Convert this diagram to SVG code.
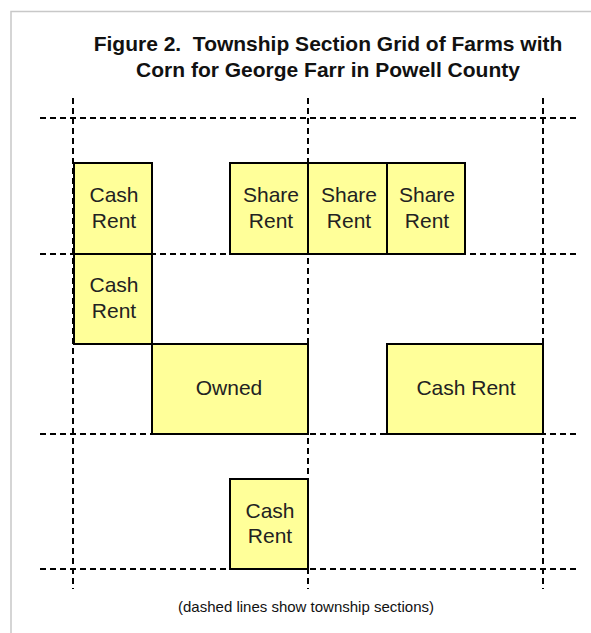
<svg xmlns="http://www.w3.org/2000/svg" width="591" height="633" viewBox="0 0 591 633">
<style>
.farm rect{fill:#ffff99;stroke:#000;stroke-width:2}
.farm text{font-family:"Liberation Sans",Arial,sans-serif;font-size:21px;fill:#222;text-anchor:middle}
.grid line{stroke:#000;stroke-width:2;stroke-dasharray:6 4}
.title{font-family:"Liberation Sans",Arial,sans-serif;font-size:21px;font-weight:bold;fill:#111;text-anchor:middle;white-space:pre}
.cap{font-family:"Liberation Sans",Arial,sans-serif;font-size:15px;fill:#111;text-anchor:middle}
</style>
<rect x="0" y="0" width="591" height="633" fill="#fff"/>
<rect x="11" y="11.5" width="600" height="640" fill="none" stroke="#c8c8c8" stroke-width="1.5"/>
<text class="title" x="328" y="51" xml:space="preserve">Figure 2.  Township Section Grid of Farms with</text>
<text class="title" x="328" y="77">Corn for George Farr in Powell County</text>
<g id="farm1" class="farm"><rect x="74" y="163" width="78" height="91"/><text x="114" y="202">Cash</text><text x="114" y="228">Rent</text></g>
<g id="farm2" class="farm"><rect x="230" y="163" width="78" height="91"/><text x="271" y="202">Share</text><text x="271" y="228">Rent</text></g>
<g id="farm3" class="farm"><rect x="308" y="163" width="79" height="91"/><text x="349" y="202">Share</text><text x="349" y="228">Rent</text></g>
<g id="farm4" class="farm"><rect x="387" y="163" width="78" height="91"/><text x="427" y="202">Share</text><text x="427" y="228">Rent</text></g>
<g id="farm5" class="farm"><rect x="74" y="254" width="78" height="90"/><text x="114" y="292">Cash</text><text x="114" y="318">Rent</text></g>
<g id="farm6" class="farm"><rect x="152" y="344" width="156" height="90"/><text x="229" y="395">Owned</text></g>
<g id="farm7" class="farm"><rect x="387" y="344" width="156" height="90"/><text x="466" y="395">Cash Rent</text></g>
<g id="farm8" class="farm"><rect x="230" y="479" width="78" height="90"/><text x="270" y="518">Cash</text><text x="270" y="543">Rent</text></g>
<g id="grid" class="grid">
<line x1="40" y1="118" x2="576" y2="118"/>
<line x1="40" y1="254" x2="576" y2="254"/>
<line x1="40" y1="434" x2="576" y2="434"/>
<line x1="40" y1="569" x2="576" y2="569"/>
<line x1="73" y1="98" x2="73" y2="589"/>
<line x1="308" y1="98" x2="308" y2="589"/>
<line x1="543" y1="98" x2="543" y2="589"/>
</g>
<text class="cap" x="306" y="612">(dashed lines show township sections)</text>
</svg>
